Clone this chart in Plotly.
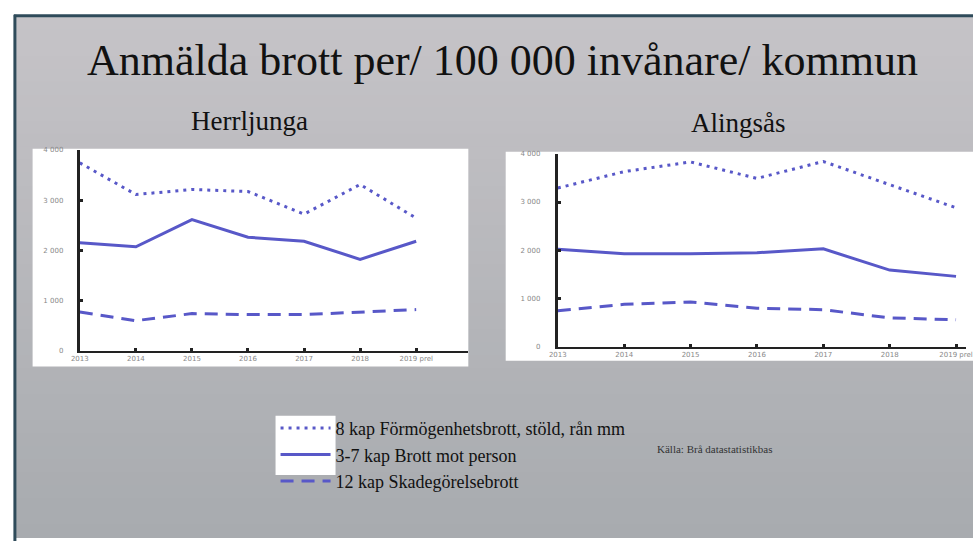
import plotly.graph_objects as go

# ---------------- data ----------------
years = ["2013", "2014", "2015", "2016", "2017", "2018", "2019 prel"]
series_names = ["8 kap Förmögenhetsbrott, stöld, rån mm",
                "3-7 kap Brott mot person",
                "12 kap Skadegörelsebrott"]
herr_8kap = [3740, 3110, 3210, 3170, 2720, 3310, 2640]
herr_3_7kap = [2150, 2070, 2610, 2260, 2180, 1820, 2180]
herr_12kap = [770, 600, 740, 720, 720, 770, 820]
ali_8kap = [3290, 3630, 3830, 3490, 3840, 3360, 2880]
ali_3_7kap = [2020, 1930, 1930, 1950, 2030, 1590, 1460]
ali_12kap = [750, 880, 930, 800, 770, 600, 560]
ytick_vals = [0, 1000, 2000, 3000, 4000]
ytick_text = ["0", "1 000", "2 000", "3 000", "4 000"]

title_text = "Anmälda brott per/ 100 000 invånare/ kommun"
left_title = "Herrljunga"
right_title = "Alingsås"
source_text = "Källa: Brå datastatistikbas"

# ---------------- layout helpers ----------------
W, H = 973, 541
def px(x):
    return x / W
def py(y):
    return 1 - y / H

LINE_COLOR = "#5858c8"
dashes = ["3px,5px", "solid", "13px,8px"]

fig = go.Figure()

herr = [herr_8kap, herr_3_7kap, herr_12kap]
ali = [ali_8kap, ali_3_7kap, ali_12kap]
for i in range(3):
    fig.add_trace(go.Scatter(
        x=years, y=herr[i], mode="lines", name=series_names[i],
        line=dict(color=LINE_COLOR, width=3, dash=dashes[i]),
        xaxis="x", yaxis="y", legendgroup=str(i), showlegend=True))
for i in range(3):
    fig.add_trace(go.Scatter(
        x=years, y=ali[i], mode="lines", name=series_names[i],
        line=dict(color=LINE_COLOR, width=3, dash=dashes[i]),
        xaxis="x2", yaxis="y2", legendgroup=str(i), showlegend=False))

shapes = []
# background gradient
top_c = (197, 195, 199)
bot_c = (168, 171, 175)
n = 40
y0, y1 = 13, H
for k in range(n):
    t = k / (n - 1)
    c = tuple(int(round(top_c[j] + (bot_c[j] - top_c[j]) * t)) for j in range(3))
    ya = y0 + (y1 - y0) * k / n
    yb = y0 + (y1 - y0) * (k + 1) / n + 1
    shapes.append(dict(type="rect", xref="paper", yref="paper",
                       x0=px(6), x1=1.01, y0=py(yb), y1=py(ya),
                       fillcolor="rgb(%d,%d,%d)" % c, line=dict(width=0), layer="below"))
# border
shapes.append(dict(type="line", xref="paper", yref="paper", x0=px(5), x1=1.01, y0=py(12), y1=py(12),
                   line=dict(color="#2f4b5a", width=3), layer="below"))
shapes.append(dict(type="line", xref="paper", yref="paper", x0=px(6), x1=px(6), y0=py(11), y1=-0.01,
                   line=dict(color="#2f4b5a", width=3), layer="below"))
# white panels
shapes.append(dict(type="rect", xref="paper", yref="paper", x0=px(24), x1=px(467), y0=py(368), y1=py(147),
                   fillcolor="white", line=dict(width=0), layer="below"))
shapes.append(dict(type="rect", xref="paper", yref="paper", x0=px(505), x1=1.01, y0=py(362), y1=py(150),
                   fillcolor="white", line=dict(width=0), layer="below"))
# legend symbol box
shapes.append(dict(type="rect", xref="paper", yref="paper", x0=px(271), x1=px(332), y0=py(478), y1=py(418),
                   fillcolor="white", line=dict(width=0), layer="below"))

serif = "Liberation Serif"
annotations = [
    dict(text=title_text, x=px(502), y=py(57), xref="paper", yref="paper", showarrow=False,
         xanchor="center", yanchor="middle", font=dict(family=serif, size=44, color="#111")),
    dict(text=left_title, x=px(245), y=py(119), xref="paper", yref="paper", showarrow=False,
         xanchor="center", yanchor="middle", font=dict(family=serif, size=27, color="#111")),
    dict(text=right_title, x=px(742), y=py(121), xref="paper", yref="paper", showarrow=False,
         xanchor="center", yanchor="middle", font=dict(family=serif, size=27, color="#111")),
    dict(text=source_text, x=px(657), y=py(452), xref="paper", yref="paper", showarrow=False,
         xanchor="left", yanchor="middle", font=dict(family=serif, size=11, color="#333")),
]

def xaxis(domain, rng):
    return dict(domain=domain, range=rng, type="category", showgrid=False, zeroline=False,
                showline=True, linecolor="#222", linewidth=2, ticks="inside", ticklen=3,
                tickwidth=3, tickcolor="#222", tickfont=dict(family="DejaVu Sans", size=7, color="#888"),
                fixedrange=True)

def yaxis(domain, anchor, standoff):
    return dict(domain=domain, range=[0, 4000], anchor=anchor, showgrid=False, zeroline=False,
                showline=True, linecolor="#222", linewidth=3, ticks="inside", ticklen=3,
                tickwidth=3, tickcolor="#222", tickvals=ytick_vals, ticktext=ytick_text,
                ticklabelstandoff=standoff,
                tickfont=dict(family="DejaVu Sans", size=7, color="#888"), fixedrange=True)

fig.update_layout(
    width=W, height=H,
    margin=dict(l=0, r=0, t=0, b=0),
    paper_bgcolor="white", plot_bgcolor="rgba(0,0,0,0)",
    xaxis=dict(**xaxis([px(72), px(467)], [0, 6.93]), anchor="y"),
    yaxis=yaxis([py(352), py(148)], "x", 12),
    xaxis2=dict(**xaxis([px(558), 1.0], [0, 6.15]), anchor="y2"),
    yaxis2=yaxis([py(348), py(152)], "x2", 13),
    shapes=shapes, annotations=annotations,
    showlegend=True,
    legend=dict(x=px(271), y=py(412), xanchor="left", yanchor="top",
                bgcolor="rgba(0,0,0,0)", traceorder="grouped", tracegroupgap=0,
                itemwidth=50, font=dict(family=serif, size=18, color="#111")),
)

fig.write_html("out.html", config={"displayModeBar": False},
               post_script="document.body.style.margin='0px';document.body.style.overflow='hidden';")
